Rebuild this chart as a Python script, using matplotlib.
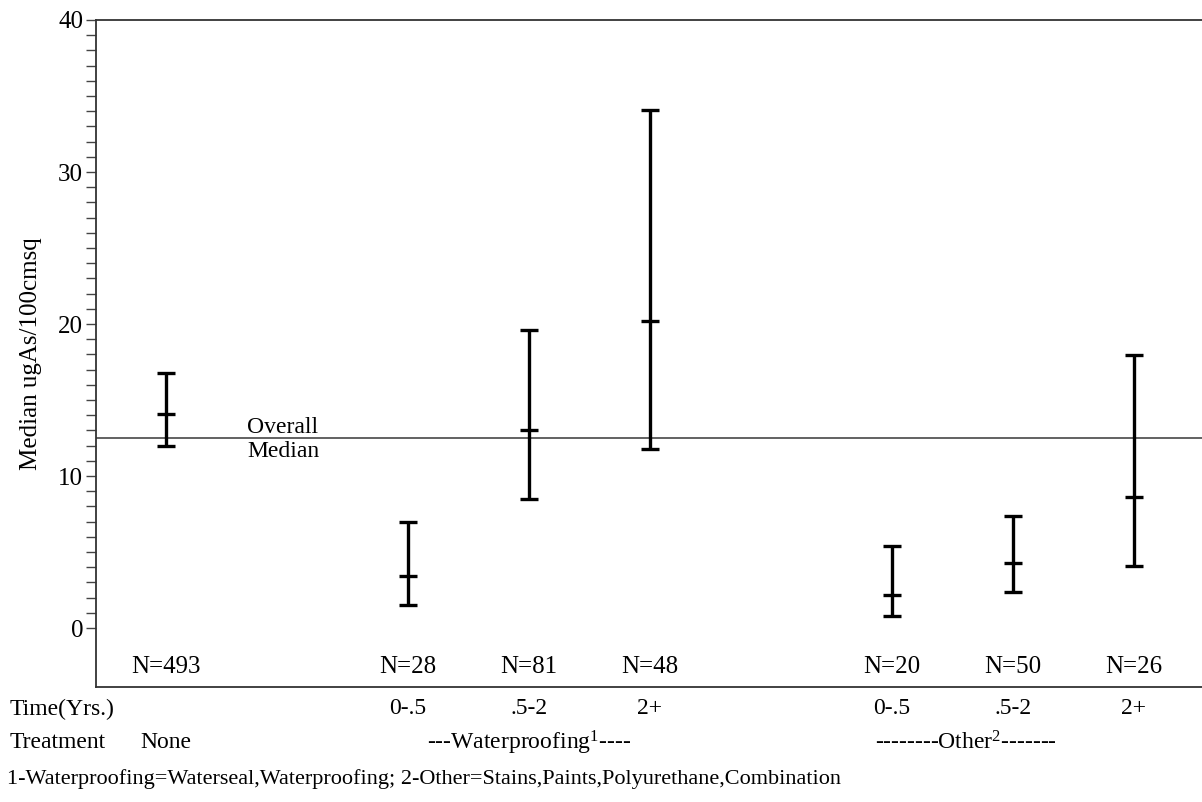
import matplotlib
matplotlib.use('Agg')
import matplotlib.pyplot as plt
import matplotlib.transforms as mtransforms
from matplotlib.ticker import FixedLocator
import numpy as np

plt.rcParams['font.family'] = ['Liberation Serif', 'DejaVu Serif']
plt.rcParams['font.size'] = 17
plt.rcParams['mathtext.fontset'] = 'custom'
plt.rcParams['mathtext.rm'] = 'Liberation Serif'
plt.rcParams['mathtext.it'] = 'Liberation Serif'

# group positions along x (gaps between treatment groups)
positions = [1, 3, 4, 5, 7, 8, 9]
n_labels = ['N=493', 'N=28', 'N=81', 'N=48', 'N=20', 'N=50', 'N=26']
time_labels = ['', '0-.5', '.5-2', '2+', '0-.5', '.5-2', '2+']

# median and its interval (ugAs/100cmsq)
medians = [14.1, 3.4, 13.0, 20.2, 2.15, 4.25, 8.65]
lows = [12.0, 1.5, 8.5, 11.75, 0.78, 2.4, 4.1]
highs = [16.8, 7.0, 19.6, 34.1, 5.4, 7.35, 17.95]
overall_median = 12.5

med = np.array(medians)
err = [med - np.array(lows), np.array(highs) - med]

fig = plt.figure(figsize=(12.02, 8.02), dpi=100)
ax = fig.add_axes([96/1202, 1 - 687/802, 1 - 96/1202, (687 - 20)/802])

#error bars with median tick
ax.errorbar(positions, medians, yerr=err, fmt='_', color='k', ecolor='k',
            elinewidth=2.4, capsize=6.5, capthick=2.4, markersize=13, mew=2.4)

#overall median line
ax.axhline(overall_median, color='#555555', lw=1.3, zorder=0)
ax.annotate('Overall', xy=(1.67, overall_median), xytext=(0, 0),
            textcoords='offset points', ha='left', va='bottom')
ax.annotate('Median', xy=(1.67, overall_median), xytext=(0, -2),
            textcoords='offset points', ha='left', va='top')

#N labels inside plot
for p, lab in zip(positions, n_labels):
    ax.text(p, -2.55, lab, ha='center', va='center', fontsize=18)

#Decorate
ax.set_xlim(0.4215, 9.562)
ax.set_ylim(-3.88, 40)
ax.set_xticks([])
ax.yaxis.set_major_locator(FixedLocator(np.arange(0, 41, 10)))
ax.yaxis.set_minor_locator(FixedLocator(np.arange(0, 41, 1)))
ax.tick_params(axis='y', which='both', direction='out', length=7.2, width=1,
               color='#444444', pad=2, labelsize=18)
ax.spines['right'].set_visible(False)
for s in ['left', 'top', 'bottom']:
    ax.spines[s].set_color('#333333')
    ax.spines[s].set_linewidth(1.3)
ax.set_ylabel('Median ugAs/100cmsq', fontsize=18)
ax.yaxis.set_label_coords(-0.049, 0.5)

#labels below the axes
trans = mtransforms.blended_transform_factory(ax.transData, fig.transFigure)
fig.text(10/1202, 1 - 709/802, 'Time(Yrs.)', ha='left', va='center')
fig.text(10/1202, 1 - 743/802, 'Treatment', ha='left', va='center')
for p, lab in zip(positions, time_labels):
    ax.text(p, 1 - 709/802, lab, ha='center', va='center', transform=trans)
ax.text(1, 1 - 743/802, 'None', ha='center', va='center', transform=trans)
ax.text(3.16, 1 - 743/802, '---Waterproofing$^1$----', ha='left',
        va='center', transform=trans)
ax.text(6.86, 1 - 743/802, '--------Other$^2$-------', ha='left',
        va='center', transform=trans)
fig.text(7/1202, 1 - 779/802,
         '1-Waterproofing=Waterseal,Waterproofing; 2-Other=Stains,Paints,Polyurethane,Combination',
         ha='left', va='center', fontsize=16)

fig.savefig('out.png', dpi=100)
